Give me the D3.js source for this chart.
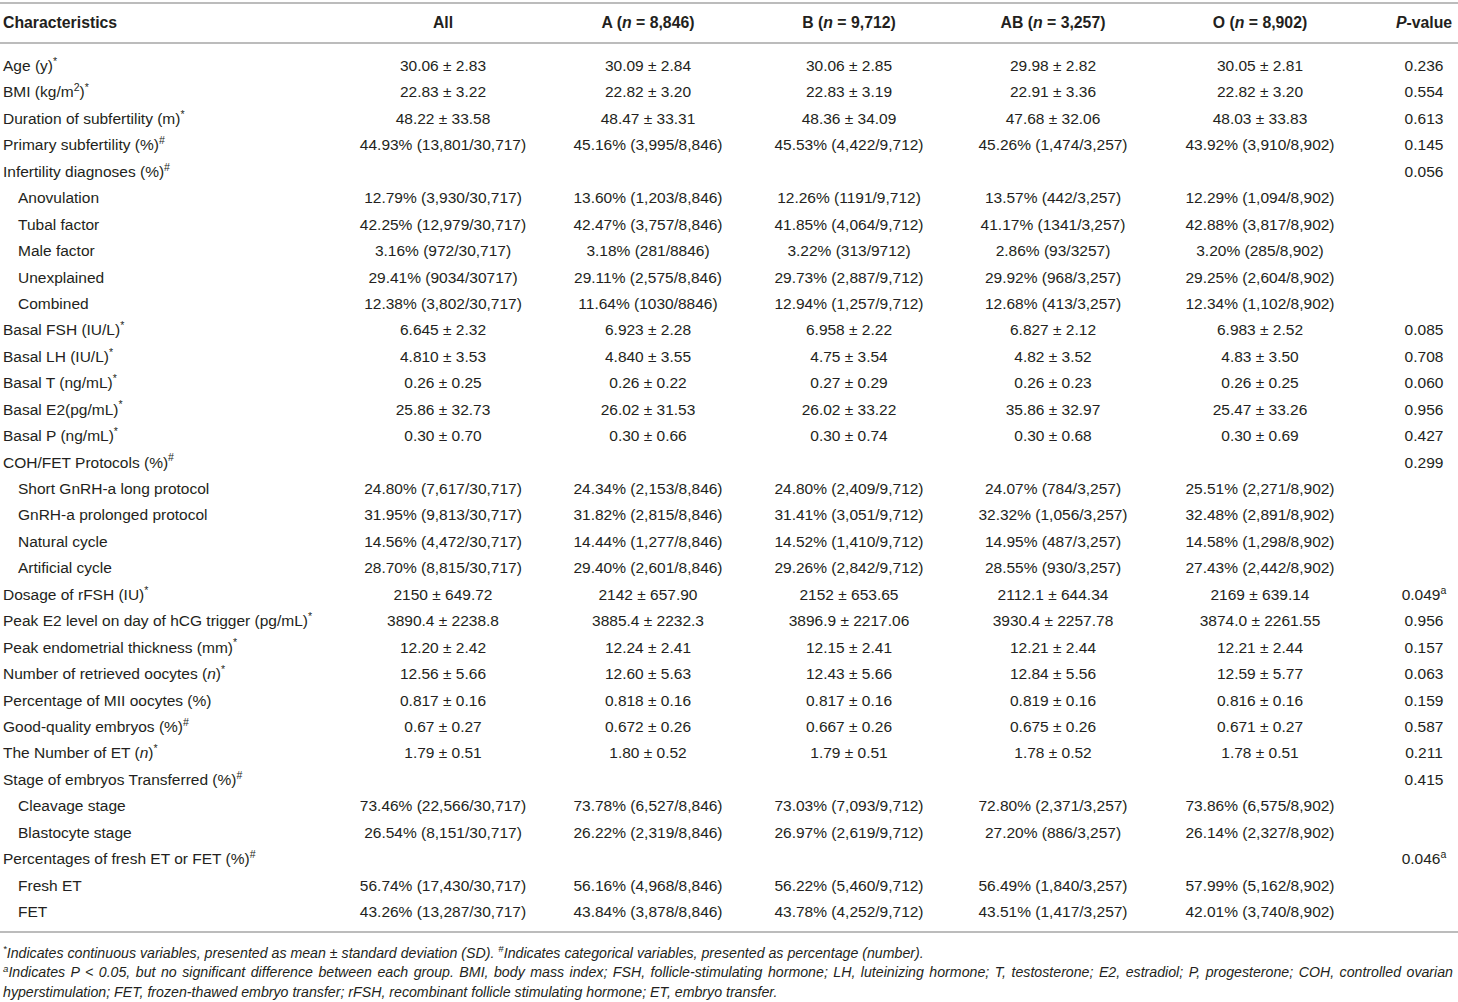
<!DOCTYPE html>
<html>
<head>
<meta charset="utf-8">
<script src="https://cdnjs.cloudflare.com/ajax/libs/d3/7.8.5/d3.min.js"></script>
<style>
  body { margin: 0; background: #fff; }
  svg { display: block; font-family: "Liberation Sans", Arial, Helvetica, sans-serif; }
  .rule { stroke: #a6a6a6; stroke-width: 1.5px; }
</style>
</head>
<body>
<svg id="table" width="1458" height="1002"></svg>
<script>
// Table content. "^x" = superscript x, "~x~" = italic x.
var headers = ["Characteristics", "All", "A (~n~ = 8,846)", "B (~n~ = 9,712)",
  "AB (~n~ = 3,257)", "O (~n~ = 8,902)", "~P~-value"];

var characteristics = [
  "Age (y)^*", "BMI (kg/m^2)^*", "Duration of subfertility (m)^*", "Primary subfertility (%)^#",
  "Infertility diagnoses (%)^#", "Anovulation", "Tubal factor", "Male factor", "Unexplained", "Combined",
  "Basal FSH (IU/L)^*", "Basal LH (IU/L)^*", "Basal T (ng/mL)^*", "Basal E2(pg/mL)^*", "Basal P (ng/mL)^*",
  "COH/FET Protocols (%)^#", "Short GnRH-a long protocol", "GnRH-a prolonged protocol", "Natural cycle",
  "Artificial cycle", "Dosage of rFSH (IU)^*", "Peak E2 level on day of hCG trigger (pg/mL)^*",
  "Peak endometrial thickness (mm)^*", "Number of retrieved oocytes (~n~)^*", "Percentage of MII oocytes (%)",
  "Good-quality embryos (%)^#", "The Number of ET (~n~)^*", "Stage of embryos Transferred (%)^#",
  "Cleavage stage", "Blastocyte stage", "Percentages of fresh ET or FET (%)^#", "Fresh ET", "FET"];

// 1 = sub-category of the row above
var level = [0,0,0,0,0,1,1,1,1,1,0,0,0,0,0,0,1,1,1,1,0,0,0,0,0,0,0,0,1,1,0,1,1];

var allValues = ["30.06 ± 2.83","22.83 ± 3.22","48.22 ± 33.58","44.93% (13,801/30,717)","",
  "12.79% (3,930/30,717)","42.25% (12,979/30,717)","3.16% (972/30,717)","29.41% (9034/30717)","12.38% (3,802/30,717)",
  "6.645 ± 2.32","4.810 ± 3.53","0.26 ± 0.25","25.86 ± 32.73","0.30 ± 0.70","",
  "24.80% (7,617/30,717)","31.95% (9,813/30,717)","14.56% (4,472/30,717)","28.70% (8,815/30,717)",
  "2150 ± 649.72","3890.4 ± 2238.8","12.20 ± 2.42","12.56 ± 5.66","0.817 ± 0.16","0.67 ± 0.27","1.79 ± 0.51","",
  "73.46% (22,566/30,717)","26.54% (8,151/30,717)","","56.74% (17,430/30,717)","43.26% (13,287/30,717)"];

var aValues = ["30.09 ± 2.84","22.82 ± 3.20","48.47 ± 33.31","45.16% (3,995/8,846)","",
  "13.60% (1,203/8,846)","42.47% (3,757/8,846)","3.18% (281/8846)","29.11% (2,575/8,846)","11.64% (1030/8846)",
  "6.923 ± 2.28","4.840 ± 3.55","0.26 ± 0.22","26.02 ± 31.53","0.30 ± 0.66","",
  "24.34% (2,153/8,846)","31.82% (2,815/8,846)","14.44% (1,277/8,846)","29.40% (2,601/8,846)",
  "2142 ± 657.90","3885.4 ± 2232.3","12.24 ± 2.41","12.60 ± 5.63","0.818 ± 0.16","0.672 ± 0.26","1.80 ± 0.52","",
  "73.78% (6,527/8,846)","26.22% (2,319/8,846)","","56.16% (4,968/8,846)","43.84% (3,878/8,846)"];

var bValues = ["30.06 ± 2.85","22.83 ± 3.19","48.36 ± 34.09","45.53% (4,422/9,712)","",
  "12.26% (1191/9,712)","41.85% (4,064/9,712)","3.22% (313/9712)","29.73% (2,887/9,712)","12.94% (1,257/9,712)",
  "6.958 ± 2.22","4.75 ± 3.54","0.27 ± 0.29","26.02 ± 33.22","0.30 ± 0.74","",
  "24.80% (2,409/9,712)","31.41% (3,051/9,712)","14.52% (1,410/9,712)","29.26% (2,842/9,712)",
  "2152 ± 653.65","3896.9 ± 2217.06","12.15 ± 2.41","12.43 ± 5.66","0.817 ± 0.16","0.667 ± 0.26","1.79 ± 0.51","",
  "73.03% (7,093/9,712)","26.97% (2,619/9,712)","","56.22% (5,460/9,712)","43.78% (4,252/9,712)"];

var abValues = ["29.98 ± 2.82","22.91 ± 3.36","47.68 ± 32.06","45.26% (1,474/3,257)","",
  "13.57% (442/3,257)","41.17% (1341/3,257)","2.86% (93/3257)","29.92% (968/3,257)","12.68% (413/3,257)",
  "6.827 ± 2.12","4.82 ± 3.52","0.26 ± 0.23","35.86 ± 32.97","0.30 ± 0.68","",
  "24.07% (784/3,257)","32.32% (1,056/3,257)","14.95% (487/3,257)","28.55% (930/3,257)",
  "2112.1 ± 644.34","3930.4 ± 2257.78","12.21 ± 2.44","12.84 ± 5.56","0.819 ± 0.16","0.675 ± 0.26","1.78 ± 0.52","",
  "72.80% (2,371/3,257)","27.20% (886/3,257)","","56.49% (1,840/3,257)","43.51% (1,417/3,257)"];

var oValues = ["30.05 ± 2.81","22.82 ± 3.20","48.03 ± 33.83","43.92% (3,910/8,902)","",
  "12.29% (1,094/8,902)","42.88% (3,817/8,902)","3.20% (285/8,902)","29.25% (2,604/8,902)","12.34% (1,102/8,902)",
  "6.983 ± 2.52","4.83 ± 3.50","0.26 ± 0.25","25.47 ± 33.26","0.30 ± 0.69","",
  "25.51% (2,271/8,902)","32.48% (2,891/8,902)","14.58% (1,298/8,902)","27.43% (2,442/8,902)",
  "2169 ± 639.14","3874.0 ± 2261.55","12.21 ± 2.44","12.59 ± 5.77","0.816 ± 0.16","0.671 ± 0.27","1.78 ± 0.51","",
  "73.86% (6,575/8,902)","26.14% (2,327/8,902)","","57.99% (5,162/8,902)","42.01% (3,740/8,902)"];

var pValues = ["0.236","0.554","0.613","0.145","0.056","","","","","",
  "0.085","0.708","0.060","0.956","0.427","0.299","","","","",
  "0.049^a","0.956","0.157","0.063","0.159","0.587","0.211","0.415","","","0.046^a","",""];

var footnotes = [
  "^*Indicates continuous variables, presented as mean ± standard deviation (SD). ^#Indicates categorical variables, presented as percentage (number).",
  "^aIndicates P < 0.05, but no significant difference between each group. BMI, body mass index; FSH, follicle-stimulating hormone; LH, luteinizing hormone; T, testosterone; E2, estradiol; P, progesterone; COH, controlled ovarian",
  "hyperstimulation; FET, frozen-thawed embryo transfer; rFSH, recombinant follicle stimulating hormone; ET, embryo transfer."];

// ---- layout
var svg = d3.select("#table");
var W = +svg.attr("width");
var fontSize = 15.5;
var headSize = 15.8;
var textColor = "#231f20";

var columns = [allValues, aValues, bValues, abValues, oValues, pValues];
var colKeys = ["label", "all", "a", "b", "ab", "o", "p"];

var x = d3.scaleOrdinal()
    .domain(colKeys)
    .range([3, 443, 648, 849, 1053, 1260, 1424]);

var y = d3.scaleLinear()
    .domain([0, characteristics.length - 1])
    .range([71, 917]);

// write a string with ^sup and ~italic~ markers into a text node
function rich(textSel, str, size) {
  var parts = str.split(/(\^.|~[^~]+~)/).filter(function(s) { return s.length; });
  var shift = 0;
  parts.forEach(function(p) {
    var t = textSel.append("tspan");
    var target = 0;
    if (p[0] === "^") {
      target = -size * 0.4;
      t.attr("font-size", size * 0.68).text(p.slice(1));
    } else if (p[0] === "~") {
      t.attr("font-style", "italic").text(p.slice(1, -1));
    } else {
      t.text(p);
    }
    if (target !== shift) { t.attr("dy", target - shift); shift = target; }
  });
}

// rules
[3, 43, 932].forEach(function(yy) {
  svg.append("line").attr("class", "rule")
      .attr("x1", 0).attr("x2", W).attr("y1", yy).attr("y2", yy);
});

// header
svg.append("g").selectAll("text")
  .data(headers)
  .join("text")
    .attr("x", function(d, i) { return x(colKeys[i]); })
    .attr("y", 28)
    .attr("text-anchor", function(d, i) { return i === 0 ? "start" : "middle"; })
    .attr("font-size", headSize)
    .attr("font-weight", "bold")
    .attr("fill", textColor)
    .each(function(d) { rich(d3.select(this), d, headSize); });

// label column
svg.append("g").selectAll("text")
  .data(characteristics)
  .join("text")
    .attr("x", function(d, i) { return x("label") + level[i] * 15; })
    .attr("y", function(d, i) { return y(i); })
    .attr("font-size", fontSize)
    .attr("fill", textColor)
    .each(function(d) { rich(d3.select(this), d, fontSize); });

// value columns
columns.forEach(function(col, c) {
  svg.append("g").selectAll("text")
    .data(col)
    .join("text")
      .attr("x", x(colKeys[c + 1]))
      .attr("y", function(d, i) { return y(i); })
      .attr("text-anchor", "middle")
      .attr("font-size", fontSize)
      .attr("fill", textColor)
      .each(function(d) { if (d) rich(d3.select(this), d, fontSize); });
});

// footnotes: condensed italic, line 2 justified
var noteSize = 14.5;
var notes = svg.append("g");
var noteText = notes.selectAll("text")
  .data(footnotes)
  .join("text")
    .attr("x", 0)
    .attr("y", function(d, i) { return 958 + i * 19.5; })
    .attr("font-size", noteSize)
    .attr("font-style", "italic")
    .attr("fill", textColor)
    .each(function(d) { rich(d3.select(this), d, noteSize); });

var nodes = noteText.nodes();
var k = (925 - 3) / nodes[0].getComputedTextLength();
notes.attr("transform", "translate(3,0) scale(" + k + ",1)");
var target2 = (1453 - 3) / k;
var spaces = (footnotes[1].match(/ /g) || []).length;
var gap = (target2 - nodes[1].getComputedTextLength()) / spaces;
d3.select(nodes[1]).attr("word-spacing", gap);
</script>
</body>
</html>
